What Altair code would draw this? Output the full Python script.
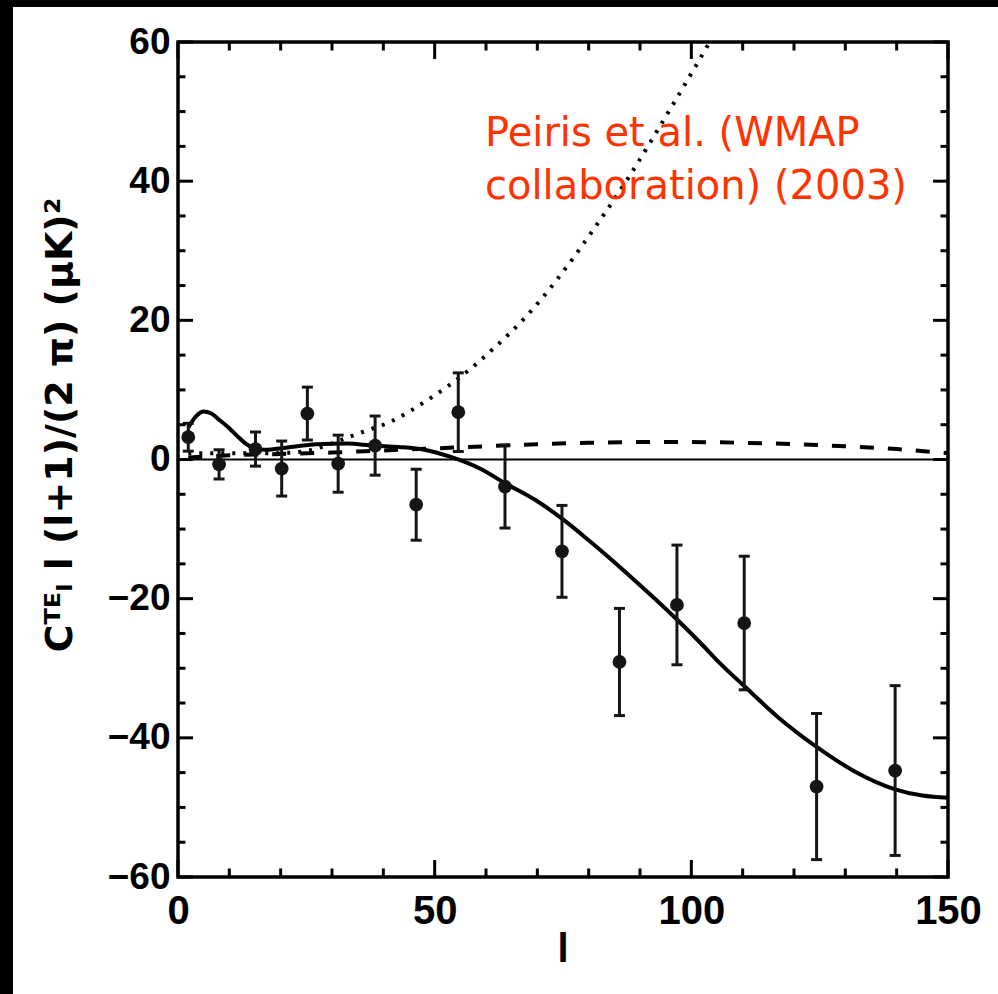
import altair as alt
import pandas as pd

# ---------------- data ----------------
pt_l = [2.0, 8.0, 15.1, 20.2, 25.2, 31.2, 38.4, 46.4, 54.6, 63.7, 74.8, 86.0, 97.2, 110.3, 124.4, 139.7]
pt_v = [3.2, -0.7, 1.5, -1.3, 6.6, -0.6, 2.0, -6.5, 6.8, -3.9, -13.2, -29.1, -20.9, -23.5, -47.0, -44.7]
pt_err = [2.0, 2.1, 2.45, 3.95, 3.8, 4.1, 4.25, 5.1, 5.65, 5.95, 6.6, 7.7, 8.6, 9.6, 10.5, 12.2]

solid_l = [2, 3.5, 5, 6.5, 8.2, 10, 11.5, 13, 14.6, 17, 21, 27, 33, 38, 43, 48, 53, 58.8,
           63.7, 70, 74.8, 80, 86, 92, 97.2, 101.7, 105.6, 110.5, 117, 124.4, 132, 139.7, 145, 150]
solid_v = [4.6, 6.2, 6.9, 6.6, 5.6, 4.5, 3.4, 2.4, 1.7, 1.4, 1.7, 2.2, 2.3, 2.0, 1.8, 1.4, 0.4, -1.3,
           -3.4, -6.0, -8.5, -11.6, -15.4, -19.4, -23.0, -26.3, -29.3, -32.7, -37.1, -41.3, -44.9, -47.4, -48.3, -48.6]

dashed_l = [2, 10, 20, 30, 40, 50, 60, 70, 80, 90, 100, 110, 120, 130, 140, 150]
dashed_v = [0.3, 0.6, 0.8, 1.0, 1.3, 1.6, 1.9, 2.2, 2.4, 2.5, 2.5, 2.4, 2.2, 1.9, 1.5, 0.9]

dotted_l = [2, 10, 18, 24, 28, 31, 35, 41.9, 48.5, 54.9, 61.4, 68, 74.4, 80.8, 88, 96, 104]
dotted_v = [0.9, 0.9, 0.9, 1.1, 1.8, 2.6, 3.7, 5.6, 8.5, 11.8, 15.9, 20.7, 26.4, 32.9, 40.8, 50.5, 60.5]

x_major = [0, 50, 100, 150]
x_minor = [10, 20, 30, 40, 60, 70, 80, 90, 110, 120, 130, 140]
y_major = [-60, -40, -20, 0, 20, 40, 60]
y_minor = [v for v in range(-55, 60, 5) if v % 20 != 0]

note_text = "Peiris et al. (WMAP\ncollaboration) (2003)"
y_title = "Cᵀᴱₗ  l  (l+1)/(2 π)  (μK)²"
x_title = "l"

# ---------------- layout ----------------
W, H = 770, 835
XS = alt.Scale(domain=[0, 150], nice=False, zero=False)
YS = alt.Scale(domain=[-60, 60], nice=False, zero=False)
LBL_FONT = "Liberation Sans"

pts = pd.DataFrame({"l": pt_l, "v": pt_v, "err": pt_err})
pts["lo"] = pts["v"] - pts["err"]
pts["hi"] = pts["v"] + pts["err"]

curves = pd.concat([
    pd.DataFrame({"l": solid_l, "v": solid_v, "model": "solid"}),
    pd.DataFrame({"l": dashed_l, "v": dashed_v, "model": "dashed"}),
    pd.DataFrame({"l": dotted_l, "v": dotted_v, "model": "dotted"}),
])

one = pd.DataFrame({"a": [0]})

x_enc = alt.X("l:Q", scale=XS, axis=alt.Axis(values=x_major, title=None, ticks=False, tickSize=0,
                                              domain=False, grid=False, labelFont=LBL_FONT,
                                              labelFontSize=40, labelFontWeight="bold",
                                              labelPadding=14, labelColor="black", format="d",
                                              labelFlush=False))
y_enc = alt.Y("v:Q", scale=YS, axis=alt.Axis(values=y_major, title=None, ticks=False, tickSize=0,
                                              domain=False, grid=False, labelFont=LBL_FONT,
                                              labelFontSize=37, labelFontWeight="bold",
                                              labelPadding=8, labelColor="black", format="d",
                                              labelFlush=False))

base_axes = alt.Chart(pts).mark_point(opacity=0).encode(x=x_enc, y=y_enc)

zero_line = alt.Chart(one).transform_calculate(z="0").mark_rule(
    color="black", strokeWidth=2).encode(y=alt.Y("z:Q", scale=YS))

lines = []
styles = {"solid": [], "dashed": [14, 14], "dotted": [3, 8]}
for name, dash in styles.items():
    mk = dict(color="black", strokeWidth=4, interpolate="monotone", clip=True)
    if dash:
        mk["strokeDash"] = dash
    lines.append(
        alt.Chart(curves).transform_filter(alt.datum.model == name)
        .mark_line(**mk).encode(x=alt.X("l:Q", scale=XS), y=alt.Y("v:Q", scale=YS))
    )

INK = "#151515"
bars = alt.Chart(pts).mark_rule(color=INK, strokeWidth=3, opacity=1).encode(
    x=alt.X("l:Q", scale=XS), y=alt.Y("lo:Q", scale=YS), y2="hi:Q")
cap_lo = alt.Chart(pts).mark_tick(color=INK, orient="horizontal", size=11, thickness=3, opacity=1).encode(
    x=alt.X("l:Q", scale=XS), y=alt.Y("lo:Q", scale=YS))
cap_hi = alt.Chart(pts).mark_tick(color=INK, orient="horizontal", size=11, thickness=3, opacity=1).encode(
    x=alt.X("l:Q", scale=XS), y=alt.Y("hi:Q", scale=YS))
dots = alt.Chart(pts).mark_circle(color=INK, size=190, opacity=1).encode(
    x=alt.X("l:Q", scale=XS), y=alt.Y("v:Q", scale=YS))

# inward axis ticks on all four sides
def xticks(vals, length):
    df = pd.DataFrame({"t": vals})
    b = alt.Chart(df).mark_rule(color="black", strokeWidth=3).encode(
        x=alt.X("t:Q", scale=XS), y=alt.value(H), y2=alt.value(H - length))
    t = alt.Chart(df).mark_rule(color="black", strokeWidth=3).encode(
        x=alt.X("t:Q", scale=XS), y=alt.value(0), y2=alt.value(length))
    return [b, t]

def yticks(vals, length):
    df = pd.DataFrame({"t": vals})
    l = alt.Chart(df).mark_rule(color="black", strokeWidth=3).encode(
        y=alt.Y("t:Q", scale=YS), x=alt.value(0), x2=alt.value(length))
    r = alt.Chart(df).mark_rule(color="black", strokeWidth=3).encode(
        y=alt.Y("t:Q", scale=YS), x=alt.value(W), x2=alt.value(W - length))
    return [l, r]

tick_layers = xticks(x_major, 17) + xticks(x_minor, 8.5) + yticks(y_major, 15) + yticks(y_minor, 7.5)

note = alt.Chart(pd.DataFrame({"l": [59.8], "v": [45.0], "txt": [note_text]})).mark_text(
    align="left", baseline="alphabetic", font="DejaVu Sans", fontSize=40, color="#ff3300",
    lineBreak="\n", lineHeight=53).encode(
    x=alt.X("l:Q", scale=XS), y=alt.Y("v:Q", scale=YS), text="txt:N")

ytitle = alt.Chart(pd.DataFrame({"txt": [y_title]})).mark_text(
    angle=270, align="center", baseline="alphabetic", font="DejaVu Sans", fontSize=38,
    fontWeight="bold", color="black").encode(
    x=alt.value(-106), y=alt.value(383), text="txt:N")

xtitle = alt.Chart(pd.DataFrame({"txt": [x_title]})).mark_text(
    align="center", baseline="alphabetic", font=LBL_FONT, fontSize=40,
    fontWeight="bold", color="black").encode(
    x=alt.value(W / 2), y=alt.value(H + 85), text="txt:N")

# black scan border at the left and top edges of the original image
border_left = alt.Chart(one).mark_rect(color="black").encode(
    x=alt.value(-178), x2=alt.value(-165), y=alt.value(-42), y2=alt.value(952))
border_top = alt.Chart(one).mark_rect(color="black").encode(
    x=alt.value(-178), x2=alt.value(820), y=alt.value(-42), y2=alt.value(-35))

chart = alt.layer(
    base_axes, zero_line, *lines, bars, cap_lo, cap_hi, dots, *tick_layers,
    note, ytitle, xtitle, border_left, border_top
).properties(
    width=W, height=H,
    autosize=alt.AutoSizeParams(type="none"),
    padding={"left": 178, "top": 42, "right": 50, "bottom": 117},
    background="white",
).configure_view(stroke="black", strokeWidth=3.5)

chart.save("out.html", embed_options={"renderer": "svg", "actions": False})
